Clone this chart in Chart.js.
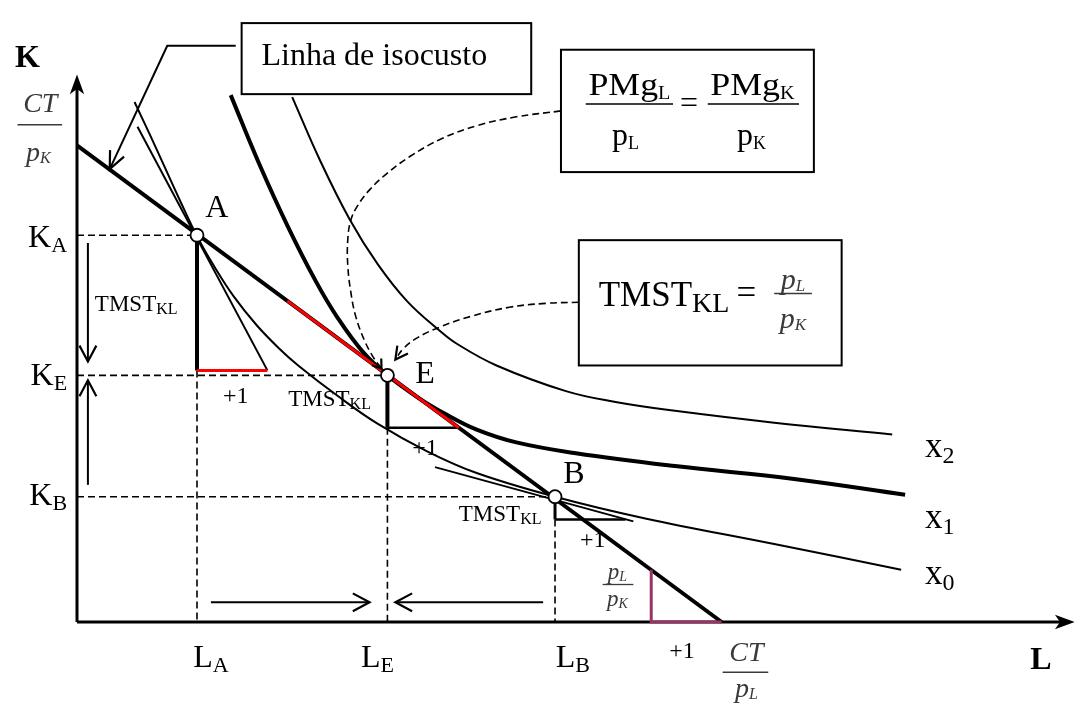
<!DOCTYPE html>
<html lang="pt">
<head>
<meta charset="UTF-8">
<title>Equilíbrio do produtor</title>
<script src="https://cdn.jsdelivr.net/npm/chart.js"></script>
<style>
    body { margin: 0; background: #fff; }
    canvas { display: block; }
</style>
</head>
<body>
<canvas id="chart" width="1083" height="713"></canvas>
<script>
    // dados (unidades de L e K)
    const isoL = [0, 65.0];
    const isoK = [48.3, 0];

    const x0L = [5.8, 7.3, 8.8, 10.3, 12.1, 13.8, 15.8, 18.1, 20.3, 22.3, 26.3, 30.3, 35.3, 40.3, 48.2, 57.3, 70.3, 83.1];
    const x0K = [52.7, 49.5, 46.2, 42.9, 39.1, 36.1, 33.0, 30.1, 27.8, 26.0, 22.9, 20.1, 17.3, 15.1, 12.7, 10.5, 7.9, 5.3];

    const x1L = [15.5, 18.3, 21.3, 24.1, 26.3, 28.8, 31.3, 34.3, 37.3, 40.3, 44.3, 50.3, 60.3, 72.3, 83.5];
    const x1K = [53.4, 46.6, 40.0, 34.5, 30.8, 27.4, 25.0, 22.8, 21.0, 19.5, 18.2, 17.1, 15.8, 14.5, 12.9];

    const x2L = [21.7, 24.5, 27.5, 30.3, 33.3, 36.6, 38.3, 42.3, 49.3, 54.3, 60.3, 70.3, 82.2];
    const x2K = [53.2, 46.8, 40.8, 36.3, 32.5, 29.5, 28.2, 26.0, 23.4, 22.3, 21.4, 20.2, 19.0];

    // pontos A, E, B
    const ptL = [12.1, 31.3, 48.2];
    const ptK = [39.2, 25.0, 12.7];

    // tangentes em A e B
    const tanAL = [6.1, 19.2], tanAK = [50.2, 25.5];
    const tanBL = [36.1, 56.1], tanBK = [15.7, 10.2];

    // setas tracejadas das caixas até E
    const d1L = [48.8, 44.3, 40.3, 36.8, 33.6, 31.3, 29.5, 28.3, 27.6, 27.3, 27.3, 27.6, 28.1, 29.0, 29.9, 30.7];
    const d1K = [51.8, 51.2, 50.3, 49.0, 47.2, 45.5, 43.8, 42.2, 40.7, 38.7, 36.2, 33.5, 31.0, 28.5, 26.8, 25.7];
    const d2L = [50.6, 47.3, 43.6, 39.8, 36.6, 34.3, 32.9, 32.1];
    const d2K = [32.4, 32.3, 31.9, 31.0, 29.9, 28.8, 27.7, 26.6];

    const pts = (L, K) => L.map((v, i) => ({ x: v, y: K[i] }));

    function seg(L, K, color, width, extra) {
        return Object.assign({
            data: pts(L, K),
            borderColor: color,
            borderWidth: width,
            pointRadius: 0,
            fill: false,
            clip: false
        }, extra || {});
    }
    const dash = { borderDash: [7, 4] };
    const smooth = { tension: 0.4 };
    const PURPLE = '#993366';

    const datasets = [
        // pontos
        { data: pts(ptL, ptK), showLine: false, pointRadius: 6.5, pointBackgroundColor: '#fff',
          pointBorderColor: '#000', pointBorderWidth: 1.8, clip: false },
        // triângulos
        seg([12.1, 19.2], [25.5, 25.5], '#ff0000', 3),
        seg([21.2, 38.5], [32.55, 19.69], '#ff0000', 3),
        seg([57.9, 57.9, 65.0], [5.3, 0, 0], PURPLE, 3),
        seg([12.1, 12.1], [39.2, 25.5], '#000', 4),
        seg([31.3, 31.3], [25.0, 19.7], '#000', 4),
        seg([31.3, 38.5], [19.7, 19.7], '#000', 2.5),
        seg([48.2, 48.2], [12.7, 10.4], '#000', 3),
        seg([48.2, 55.3], [10.4, 10.4], '#000', 2.5),
        // isocusto
        seg(isoL, isoK, '#000', 4),
        seg(tanAL, tanAK, '#000', 2),
        seg(tanBL, tanBK, '#000', 2),
        // isoquantas
        seg(x1L, x1K, '#000', 4, smooth),
        seg(x0L, x0K, '#000', 2, smooth),
        seg(x2L, x2K, '#000', 2, smooth),
        // tracejados
        seg([0, 12.1], [39.2, 39.2], '#000', 1.6, dash),
        seg([0, 31.3], [25.0, 25.0], '#000', 1.6, dash),
        seg([0, 48.2], [12.7, 12.7], '#000', 1.6, dash),
        seg([12.1, 12.1], [25.5, 0], '#000', 1.6, dash),
        seg([31.3, 31.3], [19.7, 0], '#000', 1.6, dash),
        seg([48.2, 48.2], [10.4, 0], '#000', 1.6, dash),
        seg(d1L, d1K, '#000', 1.6, Object.assign({}, smooth, dash)),
        seg(d2L, d2K, '#000', 1.6, Object.assign({}, smooth, dash)),
        // setas
        seg([16.0, 9.1, 3.3], [58.4, 58.4, 45.9], '#000', 2),
        seg([1.1, 1.1], [38.4, 26.4], '#000', 2),
        seg([1.1, 1.1], [13.9, 24.5], '#000', 2),
        seg([13.5, 29.5], [2.0, 2.0], '#000', 2),
        seg([47.0, 32.1], [2.0, 2.0], '#000', 2),
        // eixos
        seg([0, 0], [0, 54.2], '#000', 3),
        seg([0, 99.5], [0, 0], '#000', 3)
    ];

    const FONT = '"Liberation Serif", "Times New Roman", serif';

    function subText(c, main, sub, x, y, o) {
        const sx = o.sx || 1;
        const f1 = (o.italic ? 'italic ' : '') + (o.bold ? 'bold ' : '') + o.size + 'px ' + FONT;
        const f2 = (o.italic ? 'italic ' : '') + (o.subSize || o.size) + 'px ' + FONT;
        c.font = f1;
        const w1 = c.measureText(main).width;
        c.font = f2;
        const w2 = sub ? c.measureText(sub).width : 0;
        const w = (w1 + w2) * sx;
        let left = x;
        if (o.align === 'center') left = x - w / 2;
        if (o.align === 'right') left = x - w;
        c.save();
        c.fillStyle = o.color || '#000';
        c.textAlign = 'left';
        c.textBaseline = 'alphabetic';
        c.translate(left, y);
        c.scale(sx, 1);
        c.font = f1;
        c.fillText(main, 0, 0);
        if (sub) {
            c.font = f2;
            c.fillText(sub, w1, o.subDy || 0);
        }
        c.restore();
    }

    function head(c, tx, ty, fx, fy, len, ang, filled, lw) {
        const a = Math.atan2(ty - fy, tx - fx), r = ang * Math.PI / 180;
        const p1 = [tx - len * Math.cos(a - r), ty - len * Math.sin(a - r)];
        const p2 = [tx - len * Math.cos(a + r), ty - len * Math.sin(a + r)];
        c.save();
        c.lineWidth = lw || 2;
        c.strokeStyle = '#000';
        c.fillStyle = '#000';
        c.setLineDash([]);
        c.beginPath();
        if (filled) {
            c.moveTo(tx, ty);
            c.lineTo(p1[0], p1[1]);
            c.lineTo(tx - len * 0.7 * Math.cos(a), ty - len * 0.7 * Math.sin(a));
            c.lineTo(p2[0], p2[1]);
            c.closePath();
            c.fill();
        } else {
            c.moveTo(p1[0], p1[1]);
            c.lineTo(tx, ty);
            c.lineTo(p2[0], p2[1]);
            c.stroke();
        }
        c.restore();
    }

    const annotations = {
        id: 'annotations',
        afterDatasetsDraw(chart) {
            const c = chart.ctx;
            const X = v => chart.scales.x.getPixelForValue(v);
            const Y = v => chart.scales.y.getPixelForValue(v);

            // pontas de seta
            const arrows = [
                [0, 55.5, 0, 40, 21, 20, true],
                [100.6, 0, 90, 0, 21, 20, true],
                [3.3, 45.9, 9.1, 58.4, 19, 24, false],
                [1.1, 26.4, 1.1, 38.4, 18, 28, false],
                [1.1, 24.5, 1.1, 13.9, 18, 28, false],
                [29.5, 2.0, 13.5, 2.0, 19, 28, false],
                [32.1, 2.0, 47.0, 2.0, 19, 28, false],
                [30.7, 25.7, 29.9, 26.8, 10, 35, false],
                [32.1, 26.6, 32.9, 27.7, 14, 28, false]
            ];
            arrows.forEach(a => head(c, X(a[0]), Y(a[1]), X(a[2]), Y(a[3]), a[4], a[5], a[6], 2.2));

            // caixas
            c.save();
            c.strokeStyle = '#000';
            c.lineWidth = 2;
            [[16.6, 60.7, 45.8, 53.5], [48.8, 58.0, 74.3, 45.6], [50.6, 38.7, 77.1, 26.0]].forEach(b => {
                c.strokeRect(X(b[0]), Y(b[1]), X(b[2]) - X(b[0]), Y(b[3]) - Y(b[1]));
            });
            c.restore();

            const line = (L1, L2, K, color, w) => {
                c.save();
                c.strokeStyle = color;
                c.lineWidth = w;
                c.beginPath();
                c.moveTo(X(L1), Y(K));
                c.lineTo(X(L2), Y(K));
                c.stroke();
                c.restore();
            };
            const GREY = '#3a3a3a';

            // títulos dos eixos
            subText(c, 'K', '', X(-5.0), Y(56.2), { size: 32, bold: true, align: 'center' });
            subText(c, 'L', '', X(97.2), Y(-4.8), { size: 32, bold: true, align: 'center' });

            // CT/pK e CT/pL
            subText(c, 'CT', '', X(-3.7), Y(51.7), { size: 28, italic: true, align: 'center', color: GREY });
            line(-6.0, -1.5, 50.4, GREY, 1.5);
            subText(c, 'p', 'K', X(-3.9), Y(46.7), { size: 28, subSize: 16, subDy: 2, italic: true, align: 'center', color: GREY });
            subText(c, 'CT', '', X(67.5), Y(-4.0), { size: 28, italic: true, align: 'center', color: GREY });
            line(65.1, 69.7, -5.1, GREY, 1.5);
            subText(c, 'p', 'L', X(67.5), Y(-7.6), { size: 28, subSize: 16, subDy: 2, italic: true, align: 'center', color: GREY });
            subText(c, 'p', 'L', X(54.5), Y(4.4), { size: 23, subSize: 14, subDy: 2, italic: true, align: 'center', color: GREY });
            line(53.0, 56.1, 3.8, GREY, 1.3);
            subText(c, 'p', 'K', X(54.5), Y(1.6), { size: 23, subSize: 14, subDy: 2, italic: true, align: 'center', color: GREY });

            // rótulos dos eixos
            const tk = { size: 32, subSize: 22, subDy: 5 };
            subText(c, 'K', 'A', X(-1.0), Y(38.0), Object.assign({ align: 'right' }, tk));
            subText(c, 'K', 'E', X(-1.0), Y(24.0), Object.assign({ align: 'right' }, tk));
            subText(c, 'K', 'B', X(-1.0), Y(11.9), Object.assign({ align: 'right' }, tk));
            subText(c, 'L', 'A', X(13.5), Y(-4.6), Object.assign({ align: 'center' }, tk));
            subText(c, 'L', 'E', X(30.3), Y(-4.6), Object.assign({ align: 'center' }, tk));
            subText(c, 'L', 'B', X(50.0), Y(-4.6), Object.assign({ align: 'center' }, tk));

            // pontos
            subText(c, 'A', '', X(14.1), Y(41.0), { size: 32, align: 'center' });
            subText(c, 'E', '', X(35.1), Y(24.2), { size: 32, align: 'center' });
            subText(c, 'B', '', X(50.1), Y(14.1), { size: 32, align: 'center' });

            // +1 e TMST
            [[16.0, 22.2], [35.1, 16.9], [52.0, 7.6], [61.0, -3.6]].forEach(p =>
                subText(c, '+1', '', X(p[0]), Y(p[1]), { size: 24, align: 'center' }));
            [[1.8, 31.5], [21.3, 21.9], [38.5, 10.2]].forEach(p =>
                subText(c, 'TMST', 'KL', X(p[0]), Y(p[1]), { size: 23, subSize: 16, subDy: 3 }));

            // isoquantas
            subText(c, 'x', '2', X(85.5), Y(16.7), { size: 35, subSize: 24, subDy: 6 });
            subText(c, 'x', '1', X(85.5), Y(9.5), { size: 35, subSize: 24, subDy: 6 });
            subText(c, 'x', '0', X(85.5), Y(3.9), { size: 35, subSize: 24, subDy: 6 });

            // caixa 1
            subText(c, 'Linha de isocusto', '', X(18.6), Y(56.5), { size: 32 });

            // caixa 2
            subText(c, 'PMg', 'L', X(55.7), Y(53.4), { size: 32, subSize: 18, subDy: 4, sx: 1.12, align: 'center' });
            line(51.3, 60.1, 52.5, '#000', 1.5);
            subText(c, 'p', 'L', X(55.3), Y(48.3), { size: 32, subSize: 18, subDy: 4, align: 'center' });
            subText(c, '=', '', X(61.7), Y(51.6), { size: 32, align: 'center' });
            subText(c, 'PMg', 'K', X(68.1), Y(53.4), { size: 32, subSize: 18, subDy: 4, sx: 1.12, align: 'center' });
            line(63.6, 72.8, 52.5, '#000', 1.5);
            subText(c, 'p', 'K', X(68.0), Y(48.3), { size: 32, subSize: 18, subDy: 4, align: 'center' });

            // caixa 3
            subText(c, 'TMST', 'KL', X(52.6), Y(32.0), { size: 35, subSize: 28, subDy: 6 });
            subText(c, '=', '', X(67.5), Y(32.2), { size: 35, align: 'center' });
            subText(c, 'p', 'L', X(72.2), Y(33.8), { size: 30, subSize: 17, subDy: 2, italic: true, align: 'center', color: GREY });
            line(70.3, 74.1, 33.3, GREY, 1.5);
            subText(c, 'p', 'K', X(72.2), Y(29.8), { size: 30, subSize: 17, subDy: 2, italic: true, align: 'center', color: GREY });
        }
    };

    new Chart(document.getElementById('chart').getContext('2d'), {
        type: 'line',
        data: { datasets: datasets },
        options: {
            responsive: false,
            animation: false,
            layout: { padding: { left: 77, right: 0, top: 0, bottom: 91 } },
            scales: {
                x: { type: 'linear', min: 0, max: 100.6, display: false },
                y: { type: 'linear', min: 0, max: 62.2, display: false }
            },
            plugins: {
                legend: { display: false },
                tooltip: { enabled: false }
            }
        },
        plugins: [annotations]
    });
</script>
</body>
</html>
